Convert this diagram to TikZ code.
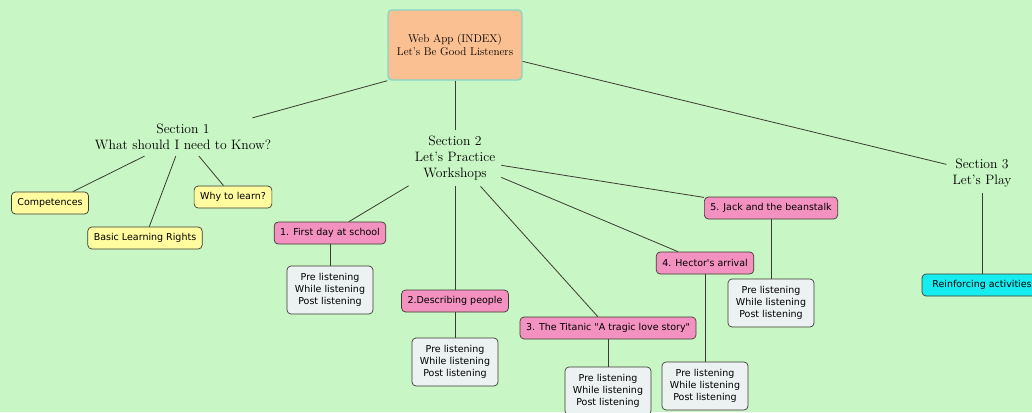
\documentclass[tikz,border=0pt]{standalone}
\usepackage{fontspec}
\newfontfamily\boxfont{DejaVu Sans}
\usetikzlibrary{positioning}
\definecolor{bggreen}{RGB}{200,246,196}
\definecolor{peach}{RGB}{250,192,145}
\definecolor{teal}{RGB}{130,215,200}
\definecolor{yellowbox}{RGB}{255,252,160}
\definecolor{pinkbox}{RGB}{243,145,192}
\definecolor{greybox}{RGB}{236,241,241}
\definecolor{cyanbox}{RGB}{20,236,240}
\definecolor{edge}{RGB}{60,60,50}

\begin{document}
\begin{tikzpicture}[x=1pt,y=-1pt,
    rootbox/.style={draw=teal,line width=1.4pt,fill=peach,rounded corners=4pt,
      minimum width=134pt,minimum height=70pt,align=center,
      font=\fontsize{11.2}{13.5}\selectfont},
    sect/.style={align=center,inner sep=6pt,font=\fontsize{13.6}{16}\selectfont},
    leaf/.style={draw=edge,line width=0.7pt,rounded corners=4pt,inner xsep=6pt,minimum height=22pt,
      font=\boxfont\fontsize{9.5}{12}\selectfont},
    phase/.style={leaf,fill=greybox,align=center,minimum width=86pt,minimum height=48pt},
    link/.style={draw=edge,line width=0.8pt}]
    \useasboundingbox (0,0) rectangle (1032,412);
    \fill[bggreen] (0,0) rectangle (1032,412);

    % Index
    \node[rootbox] (root) at (455,45) {Web App (INDEX)\\Let's Be Good Listeners};

    % Sections
    \node[sect] (s1) at (183,137) {Section \oldstylenums{1}\\What should I need to Know?};
    \node[sect] (s2) at (455,158) {Section \oldstylenums{2}\\Let's Practice\\Workshops};
    \node[sect] (s3) at (982,173) {Section \oldstylenums{3}\\Let's Play};

    % Section 1 leaves
    \node[leaf,fill=yellowbox] (comp) at (50,203) {Competences};
    \node[leaf,fill=yellowbox] (rights) at (145,238) {Basic Learning Rights};
    \node[leaf,fill=yellowbox] (why) at (233,197) {Why to learn?};

    % Workshops
    \node[leaf,fill=pinkbox] (w1) at (330,233) {1. First day at school};
    \node[leaf,fill=pinkbox] (w2) at (455,301) {2.Describing people};
    \node[leaf,fill=pinkbox] (w3) at (608,328) {3. The Titanic "A tragic love story"};
    \node[leaf,fill=pinkbox] (w4) at (705,263) {4. Hector's arrival};
    \node[leaf,fill=pinkbox] (w5) at (771,208) {5. Jack and the beanstalk};

    % Listening phases
    \node[phase] (p1) at (330,290) {Pre listening\\While listening\\Post listening};
    \node[phase] (p2) at (455,362) {Pre listening\\While listening\\Post listening};
    \node[phase] (p3) at (608,391) {Pre listening\\While listening\\Post listening};
    \node[phase] (p4) at (705,386) {Pre listening\\While listening\\Post listening};
    \node[phase] (p5) at (771,303) {Pre listening\\While listening\\Post listening};

    % Section 3 leaf
    \node[leaf,fill=cyanbox,minimum width=120pt] (play) at (982,285) {Reinforcing activities};

    % Connectors
    \draw[link] (root.south west) -- (s1);
    \draw[link] (root) -- (s2);
    \draw[link] (root) -- (s3);
    \foreach \t in {comp,rights,why}
        \draw[link] (s1) -- (\t);
    \foreach \t in {w1,w2,w3,w4,w5}
        \draw[link] (s2) -- (\t);
    \foreach \i in {1,...,5}
        \draw[link] (w\i) -- (p\i);
    \draw[link] (s3) -- (play);
\end{tikzpicture}
\end{document}
